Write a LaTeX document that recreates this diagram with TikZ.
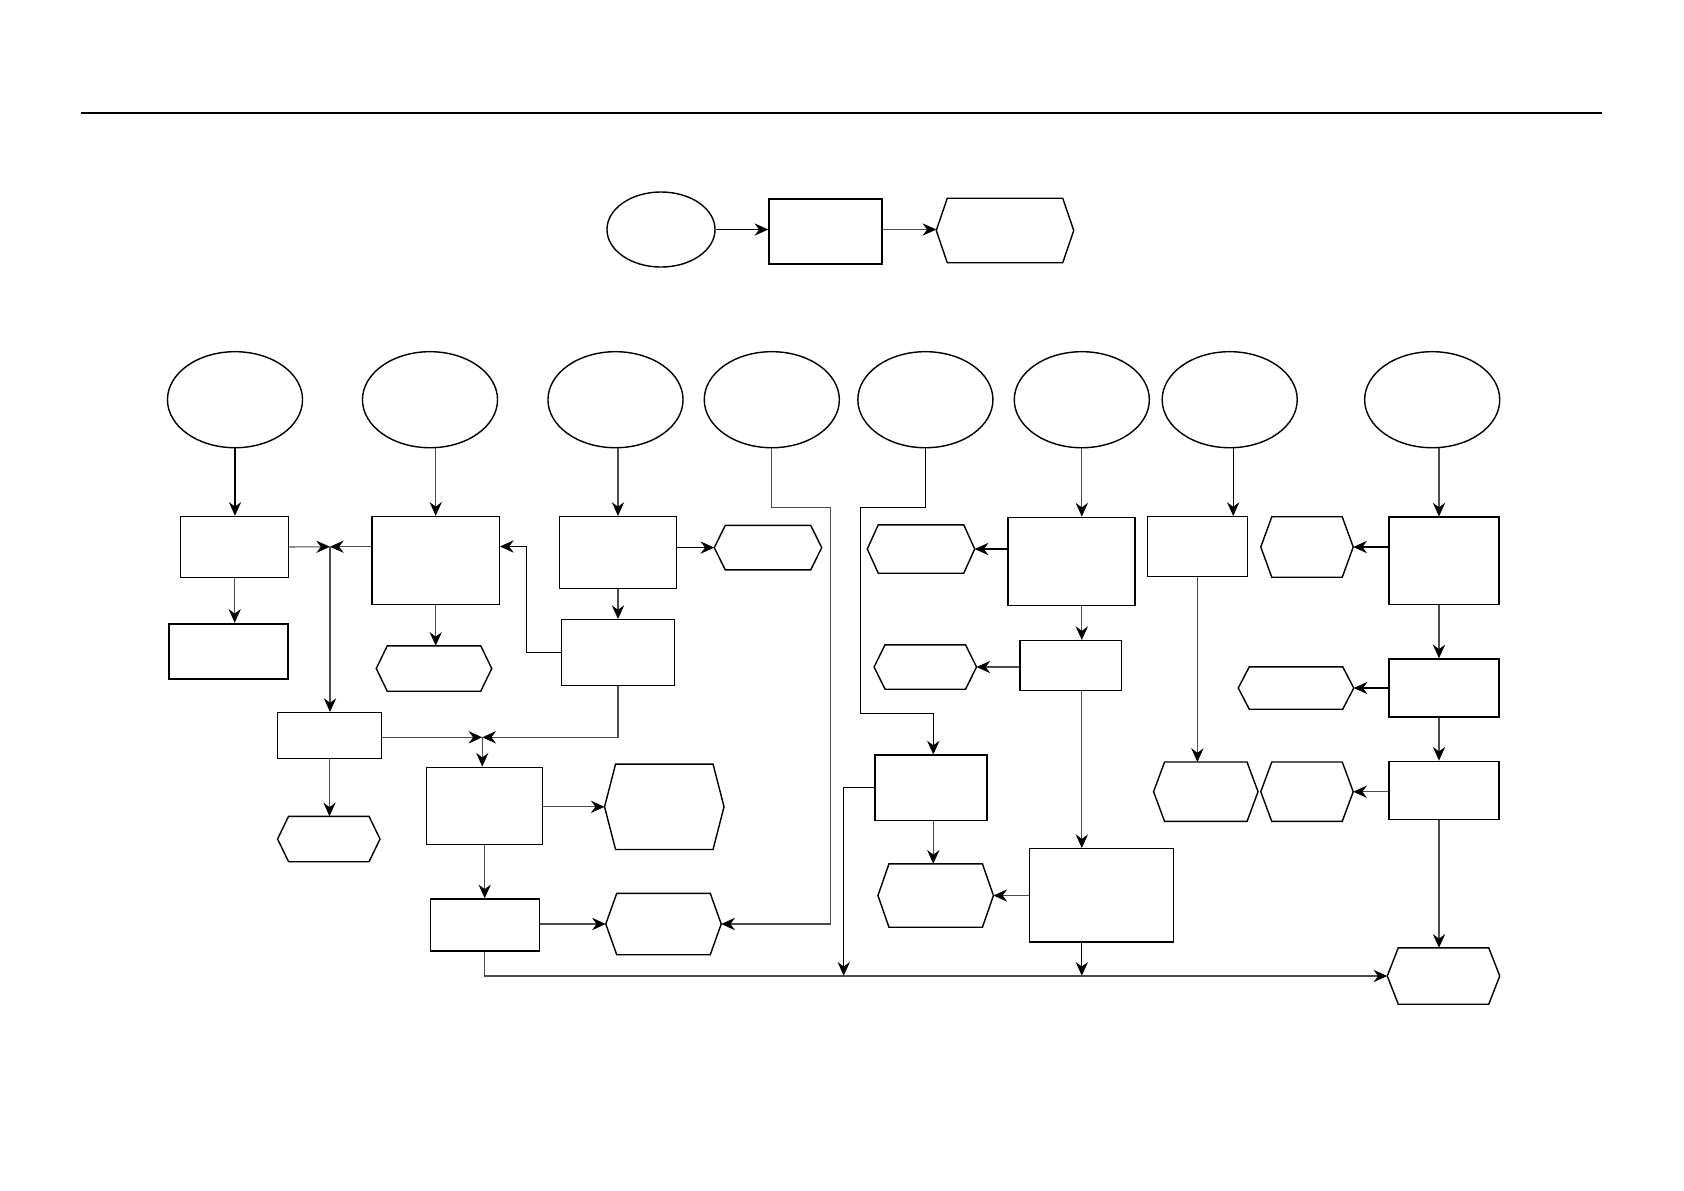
\documentclass[tikz,border=0pt]{standalone}
\usetikzlibrary{positioning,calc,arrows.meta,shapes.geometric}
\tikzset{ovl/.style={draw,ellipse,line width=0.4pt,minimum width=1.35cm,minimum height=0.96cm,inner sep=0pt}  }
\tikzset{blk/.style 2 args={draw,rectangle,line width=0.4pt,minimum width=#1cm,minimum height=#2cm,inner sep=0pt}  }
\tikzset{hexa/.style 2 args={rectangle,minimum width=#1cm,minimum height=#2cm,inner sep=0pt}  }
\tikzset{lnk/.style={black!70,line width=0.3pt}  }
\tikzset{>={Stealth[length=3.9pt,width=3.5pt,inset=1.3pt,color=black]}}

\begin{document}
\begin{tikzpicture}[x=0.01cm,y=-0.01cm]
	\useasboundingbox (0,0) rectangle (1684,1190);
	\draw[line width=0.6pt] (81,113) -- (1602,113);

	% top legend
	\node[ovl,minimum width=1.08cm,minimum height=0.75cm] (s0) at (661,229.5) {};
	\node[blk={1.13}{0.65}] (s1) at (825.5,231.5) {};
	\node[hexa={1.36}{0.63}] (s2) at (1005,230.5) {};
	\draw[->,line width=0.4pt] (s0.east) -- (s1.west |- s0.east);
	\draw[->,lnk] (s1.east |- s0.east) -- (s2.west |- s0.east);

	% ellipses
	\node[ovl] (e1) at (235,399.7) {};
	\node[ovl] (e2) at (430,399.7) {};
	\node[ovl] (e3) at (615.5,399.7) {};
	\node[ovl] (e4) at (771.8,399.7) {};
	\node[ovl] (e5) at (925.4,399.7) {};
	\node[ovl] (e6) at (1081.8,399.7) {};
	\node[ovl] (e7) at (1229.7,399.7) {};
	\node[ovl] (e8) at (1432.2,399.7) {};

	% blocks
	\node[blk={1.08}{0.61}] (a1) at (234.7,547) {};
	\node[blk={1.19}{0.55},line width=0.7pt] (a2) at (228.3,651.5) {};
	\node[blk={1.04}{0.46}] (a3) at (329.5,735.7) {};
	\node[hexa={1.01}{0.44}] (a4) at (328.8,839) {};
	\node[blk={1.27}{0.88}] (b1) at (435.7,560.5) {};
	\node[hexa={1.14}{0.44}] (b2) at (434,668.5) {};
	\node[blk={1.17}{0.72}] (c1) at (618,552.6) {};
	\node[hexa={1.06}{0.43}] (c2) at (768,547.6) {};
	\node[blk={1.13}{0.655}] (c3) at (618,652.5) {};
	\node[blk={1.16}{0.77}] (d1) at (484.7,805.8) {};
	\node[hexa={1.18}{0.84}] (d2) at (664.3,806.8) {};
	\node[blk={1.09}{0.52}] (d3) at (484.8,925) {};
	\node[hexa={1.14}{0.60}] (d4) at (663.5,924) {};
	\node[blk={1.12}{0.65}] (g1) at (931,787.7) {};
	\node[hexa={1.14}{0.62}] (g2) at (935.7,895.5) {};
	\node[blk={1.27}{0.88}] (h1) at (1071.5,561.3) {};
	\node[hexa={1.06}{0.47}] (h2) at (921,549) {};
	\node[blk={1.01}{0.50}] (h3) at (1070.7,665.7) {};
	\node[hexa={1.01}{0.43}] (h4) at (925.3,667) {};
	\node[blk={1.44}{0.93}] (h5) at (1101.5,895.3) {};
	\node[blk={1.00}{0.60}] (i1) at (1197.4,546.7) {};
	\node[hexa={1.03}{0.58}] (i2) at (1205.8,791.7) {};
	\node[blk={1.10}{0.87}] (k1) at (1444,560.7) {};
	\node[hexa={0.91}{0.59}] (k2) at (1307,547) {};
	\node[blk={1.10}{0.58}] (k3) at (1444,688) {};
	\node[hexa={1.14}{0.41}] (k4) at (1296,688) {};
	\node[blk={1.10}{0.58}] (k5) at (1444,790.3) {};
	\node[hexa={0.91}{0.58}] (k6) at (1307,791.7) {};
	\node[hexa={1.11}{0.55}] (k7) at (1443.5,976) {};

	\foreach \h in {s2,a4,b2,c2,d2,d4,g2,h2,h4,i2,k2,k4,k6,k7}
		\draw[line width=0.4pt] (\h.west) -- ([xshift=0.11cm]\h.north west) -- ([xshift=-0.11cm]\h.north east)
			-- (\h.east) -- ([xshift=-0.11cm]\h.south east) -- ([xshift=0.11cm]\h.south west) -- cycle;

	\coordinate (j1) at (330,546.7);
	\coordinate (j2) at (482.3,737.3);
	\coordinate (bl) at (0,975.7);

	% column 1 and 2
	\draw[->,lnk,black] (e1.south) -- (e1.south |- a1.north);
	\draw[->,lnk] (a1.south) -- (a1.south |- a2.north);
	\draw[->,lnk] (a1.east) -- (j1);
	\draw[->,lnk] (b1.west |- j1) -- (j1);
	\draw[->,lnk] (j1) -- (j1 |- a3.north);
	\draw[->,lnk] (a3.south) -- (a3.south |- a4.north);
	\draw[->,lnk] (e2.south -| b1.north) -- (b1.north);
	\draw[->,lnk] (b1.south) -- (b1.south |- b2.north);

	% column 3
	\draw[->,lnk] (c1.north |- e3.south) -- (c1.north);
	\draw[->,lnk,black] (c1.east |- c2.east) -- (c2.east -| c2.west);
	\draw[->,lnk] (c1.south) -- (c3.north);
	\draw[->,lnk,black] (c3.west) -- ++(-34,0) |- ([yshift=0.14cm]b1.east);
	\draw[->,lnk] (a3.east |- j2) -- (j2);
	\draw[->,lnk] (c3.south) |- (j2);
	\draw[->,lnk] (j2) -- (j2 |- d1.north);
	\draw[->,lnk] (d1.east |- d2.west) -- (d2.west);
	\draw[->,lnk] (d1.south) -- (d1.south |- d3.north);
	\draw[->,lnk] (d3.east |- d4.west) -- (d4.west);
	\draw[->,lnk] (d3.south) |- (k7.west);

	% columns 4 and 5
	\draw[->,lnk] (e4.south) -- ++(0,59) -- ++(59,0) |- (d4.east);
	\draw[->,lnk,black] (e5.south) -- ++(0,59) -- ++(-65,0) -- ++(0,206) -| ([xshift=0.023cm]g1.north);
	\draw[->,lnk] ([xshift=0.023cm]g1.south) -- ([xshift=0.023cm]g1.south |- g2.north);
	\draw[->,lnk,black] (g1.west) -| (843.7,975.7);

	% column 6
	\draw[->,lnk] (e6.south) -- (e6.south |- h1.north);
	\draw[->,lnk,black] (h1.west |- h2.east) -- (h2.east);
	\draw[->,lnk] (e6.south |- h1.south) -- (e6.south |- h3.north);
	\draw[->,lnk] (h3.west |- h4.east) -- (h4.east);
	\draw[->,lnk] (e6.south |- h3.south) -- (e6.south |- h5.north);
	\draw[->,lnk] (h5.west |- g2.east) -- (g2.east);
	\draw[->,lnk,black] (e6.south |- h5.south) -- (e6.south |- bl);

	% column 7
	\draw[->,lnk,black] ([xshift=0.035cm]e7.south) -- ([xshift=0.035cm]e7.south |- i1.north);
	\draw[->,lnk] (i1.south) -- (i1.south |- i2.north);

	% column 8
	\draw[->,lnk] ([xshift=0.068cm]e8.south) -- ([xshift=0.068cm]e8.south |- k1.north);
	\draw[->,lnk,black] (k1.west |- k2.east) -- (k2.east);
	\draw[->,lnk] ([xshift=-0.05cm]k1.south) -- ([xshift=-0.05cm]k3.north);
	\draw[->,lnk,black] (k3.west) -- (k4.east);
	\draw[->,lnk] ([xshift=-0.05cm]k3.south) -- ([xshift=-0.05cm]k5.north);
	\draw[->,lnk] (k5.west |- k6.east) -- (k6.east);
	\draw[->,lnk] ([xshift=-0.05cm]k5.south) -- ([xshift=-0.05cm]k5.south |- k7.north);
\end{tikzpicture}
\end{document}
